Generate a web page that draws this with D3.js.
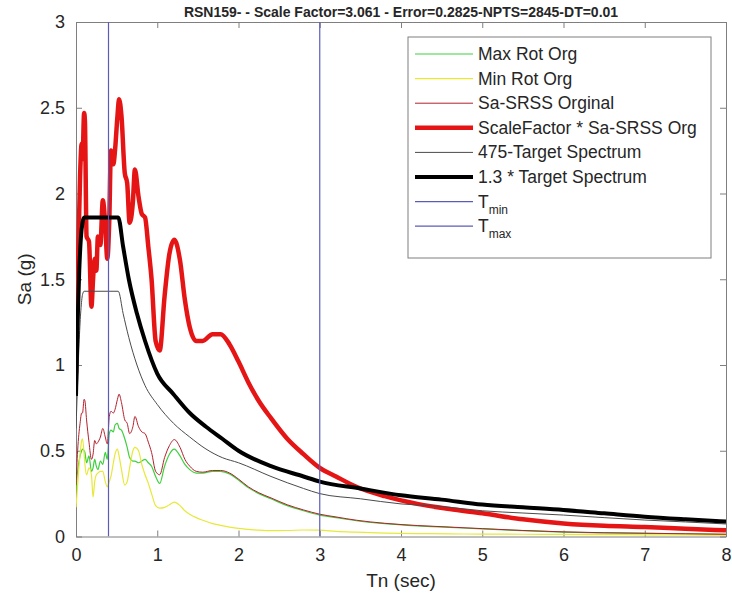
<!DOCTYPE html>
<html>
<head>
<meta charset="utf-8">
<script src="https://cdn.jsdelivr.net/npm/d3@7/dist/d3.min.js"></script>
<style>
  body { margin: 0; background: #fff; }
  text { font-family: "Liberation Sans", Arial, sans-serif; fill: #262626; }
  .axis path, .axis line { stroke: #7f7f7f; }
</style>
</head>
<body>
<div id="svg-area"></div>
<script>
// record spectra, periods in sec
var periods = [0, 0.02, 0.05, 0.07, 0.08, 0.1, 0.11, 0.13, 0.16, 0.19, 0.21, 0.23, 0.25, 0.27, 0.3, 0.33, 0.36, 0.385,
  0.41, 0.43, 0.46, 0.48, 0.51, 0.53, 0.56, 0.6, 0.63, 0.66, 0.7, 0.725, 0.77, 0.81, 0.85, 0.89, 0.93, 0.98,
  1.03, 1.09, 1.15, 1.21, 1.28, 1.34, 1.4, 1.48, 1.56, 1.68, 1.78, 1.89, 2.0, 2.12, 2.25, 2.4, 2.6, 2.8,
  3.0, 3.2, 3.45, 3.8, 4.2, 4.6, 5.0, 5.5, 6.0, 6.5, 7.0, 7.5, 8.0];

var maxRot = [0.27, 0.38, 0.47, 0.5, 0.51, 0.5, 0.49, 0.43, 0.47, 0.38, 0.4, 0.45, 0.41, 0.39, 0.44, 0.42, 0.49, 0.45,
  0.6, 0.62, 0.61, 0.65, 0.66, 0.63, 0.62, 0.57, 0.52, 0.46, 0.44, 0.44, 0.43, 0.44, 0.45, 0.43, 0.41, 0.35,
  0.31, 0.41, 0.48, 0.51, 0.47, 0.42, 0.39, 0.37, 0.37, 0.38, 0.38, 0.365, 0.33, 0.285, 0.25, 0.22, 0.18, 0.15,
  0.125, 0.11, 0.092, 0.075, 0.062, 0.053, 0.044, 0.034, 0.026, 0.021, 0.018, 0.015, 0.012];

var minRot = [0.17, 0.3, 0.48, 0.56, 0.57, 0.48, 0.42, 0.36, 0.4, 0.36, 0.23, 0.32, 0.36, 0.37, 0.38, 0.38, 0.32, 0.29,
  0.32, 0.35, 0.43, 0.48, 0.51, 0.47, 0.39, 0.3, 0.32, 0.4, 0.5, 0.52, 0.5, 0.42, 0.36, 0.31, 0.25, 0.18,
  0.165, 0.17, 0.185, 0.2, 0.18, 0.15, 0.13, 0.11, 0.095, 0.075, 0.065, 0.055, 0.047, 0.042, 0.037, 0.034, 0.035, 0.038,
  0.037, 0.03, 0.025, 0.02, 0.017, 0.015, 0.014, 0.013, 0.012, 0.011, 0.01, 0.009, 0.008];

var srss = [0.3, 0.5, 0.66, 0.72, 0.72, 0.8, 0.79, 0.68, 0.55, 0.45, 0.48, 0.56, 0.54, 0.55, 0.58, 0.63, 0.58, 0.54,
  0.7, 0.73, 0.72, 0.74, 0.8, 0.83, 0.78, 0.68, 0.66, 0.6, 0.64, 0.7, 0.64, 0.61, 0.6, 0.55, 0.49, 0.38,
  0.36, 0.46, 0.53, 0.565, 0.52, 0.45, 0.41, 0.38, 0.375, 0.385, 0.385, 0.37, 0.335, 0.29, 0.255, 0.225, 0.185, 0.155,
  0.13, 0.114, 0.095, 0.077, 0.064, 0.055, 0.046, 0.035, 0.027, 0.022, 0.019, 0.016, 0.013];

var srssScaled = [0.95, 1.5, 2.1, 2.29, 2.2, 2.47, 2.42, 1.75, 1.72, 1.34, 1.5, 1.62, 1.55, 1.75, 1.7, 1.96, 1.82, 1.62,
  1.85, 2.25, 2.17, 2.25, 2.45, 2.55, 2.45, 2.12, 2.06, 1.83, 1.95, 2.14, 1.98, 1.88, 1.86, 1.69, 1.5, 1.14,
  1.085, 1.4, 1.65, 1.73, 1.61, 1.38, 1.22, 1.14, 1.14, 1.18, 1.18, 1.12, 1.02, 0.9, 0.79, 0.69, 0.57, 0.48,
  0.4, 0.35, 0.29, 0.235, 0.19, 0.16, 0.135, 0.1, 0.076, 0.062, 0.055, 0.045, 0.036];

// target spectra
var periodsTarget = [0, 0.02, 0.04, 0.06, 0.08, 0.1, 0.52, 0.58, 0.65, 0.75, 0.85, 1.0, 1.2, 1.4, 1.6, 1.8, 2.0,
  2.4, 2.8, 3.0, 3.5, 4.0, 4.5, 5.0, 5.5, 6.0, 6.5, 7.0, 7.5, 8.0];
var target475 = [0.63, 0.9, 1.15, 1.32, 1.41, 1.43, 1.43, 1.3, 1.16, 1.0, 0.88, 0.77, 0.66, 0.58, 0.51, 0.46, 0.43,
  0.35, 0.28, 0.25, 0.22, 0.19, 0.175, 0.15, 0.137, 0.125, 0.11, 0.096, 0.085, 0.073];
var target13 = [0.82, 1.25, 1.55, 1.74, 1.83, 1.86, 1.86, 1.69, 1.5, 1.3, 1.14, 0.95, 0.83, 0.72, 0.64, 0.57, 0.5,
  0.41, 0.35, 0.32, 0.28, 0.24, 0.215, 0.186, 0.17, 0.155, 0.135, 0.115, 0.1, 0.087];

var tMin = 0.4;
var tMax = 3;

var xTicks = [0, 1, 2, 3, 4, 5, 6, 7, 8];
var yTicks = [0, 0.5, 1, 1.5, 2, 2.5, 3];
var yTickLabels = ["0", "0.5", "1", "1.5", "2", "2.5", "3"];

var titleText = "RSN159- - Scale Factor=3.061 - Error=0.2825-NPTS=2845-DT=0.01";

// svg size
var svgWidth = 732;
var svgHeight = 605;

var chartMargin = { top: 22, right: 6, bottom: 68.5, left: 76 };
var chartWidth = svgWidth - chartMargin.left - chartMargin.right;
var chartHeight = svgHeight - chartMargin.top - chartMargin.bottom;

var svg = d3.select("#svg-area")
  .append("svg")
  .attr("width", svgWidth)
  .attr("height", svgHeight);

var chartGroup = svg.append("g")
  .attr("transform", `translate(${chartMargin.left}, ${chartMargin.top})`);

var xScale = d3.scaleLinear().domain([0, 8]).range([0, chartWidth]);
var yScale = d3.scaleLinear().domain([0, 3]).range([chartHeight, 0]);

svg.append("defs").append("clipPath")
  .attr("id", "plot-clip")
  .append("rect")
  .attr("width", chartWidth)
  .attr("height", chartHeight);

// axes, ticks inside like matlab
var bottomAxis = d3.axisBottom(xScale).tickValues(xTicks).tickSize(-6).tickSizeOuter(0).tickPadding(12);
var topAxis = d3.axisTop(xScale).tickValues(xTicks).tickSize(-6).tickSizeOuter(0).tickFormat("");
var leftAxis = d3.axisLeft(yScale).tickValues(yTicks).tickSize(-6).tickSizeOuter(0).tickPadding(11)
  .tickFormat((d, i) => yTickLabels[i]);
var rightAxis = d3.axisRight(yScale).tickValues(yTicks).tickSize(-6).tickSizeOuter(0).tickFormat("");

chartGroup.append("g").attr("class", "axis")
  .attr("transform", `translate(0, ${chartHeight})`)
  .call(bottomAxis);
chartGroup.append("g").attr("class", "axis").call(topAxis);
chartGroup.append("g").attr("class", "axis").call(leftAxis);
chartGroup.append("g").attr("class", "axis")
  .attr("transform", `translate(${chartWidth}, 0)`)
  .call(rightAxis);

chartGroup.selectAll(".axis text").style("font-size", "18px");

// curves
var series = [
  { name: "Max Rot Org", x: periods, y: maxRot, color: "#3fcf3f", width: 1.2 },
  { name: "Min Rot Org", x: periods, y: minRot, color: "#e8e83a", width: 1.2 },
  { name: "Sa-SRSS Orginal", x: periods, y: srss, color: "#b3202c", width: 1 },
  { name: "ScaleFactor * Sa-SRSS Org", x: periods, y: srssScaled, color: "#e51515", width: 4.5 },
  { name: "475-Target Spectrum", x: periodsTarget, y: target475, color: "#4a4a4a", width: 1 },
  { name: "1.3 * Target Spectrum", x: periodsTarget, y: target13, color: "#000000", width: 4 }
];

var line = d3.line()
  .x(d => xScale(d[0]))
  .y(d => yScale(d[1]))
  .curve(d3.curveMonotoneX);

var plot = chartGroup.append("g").attr("clip-path", "url(#plot-clip)");

series.forEach(function(s) {
  plot.append("path")
    .datum(s.x.map((t, i) => [t, s.y[i]]))
    .attr("d", line)
    .attr("fill", "none")
    .attr("stroke", s.color)
    .attr("stroke-width", s.width)
    .attr("stroke-linejoin", "round");
});

// Tmin / Tmax
[tMin, tMax].forEach(function(t) {
  plot.append("line")
    .attr("x1", xScale(t)).attr("x2", xScale(t))
    .attr("y1", yScale(0)).attr("y2", yScale(3))
    .attr("stroke", "#5c5cb8")
    .attr("stroke-width", 1.2);
});

// labels
svg.append("text")
  .attr("x", chartMargin.left + chartWidth / 2)
  .attr("y", 17)
  .attr("text-anchor", "middle")
  .style("font-size", "14px")
  .style("font-weight", "bold")
  .text(titleText);

svg.append("text")
  .attr("x", chartMargin.left + chartWidth / 2)
  .attr("y", 587)
  .attr("text-anchor", "middle")
  .style("font-size", "19px")
  .text("Tn (sec)");

svg.append("text")
  .attr("transform", "rotate(-90)")
  .attr("x", -(chartMargin.top + chartHeight / 2))
  .attr("y", 31)
  .attr("text-anchor", "middle")
  .style("font-size", "19px")
  .text("Sa (g)");

// legend
var legend = svg.append("g").attr("transform", "translate(408, 37)");
legend.append("rect")
  .attr("width", 303)
  .attr("height", 221)
  .attr("fill", "#fff")
  .attr("stroke", "#7f7f7f")
  .attr("stroke-width", 1);

var legendItems = series.map(s => ({ name: s.name, color: s.color, width: s.width }))
  .concat([{ name: "T", sub: "min", color: "#5c5cb8", width: 1.2 },
           { name: "T", sub: "max", color: "#5c5cb8", width: 1.2 }]);

legendItems.forEach(function(item, i) {
  var yRow = 17 + i * 24.6;
  legend.append("line")
    .attr("x1", 7).attr("x2", 65)
    .attr("y1", yRow).attr("y2", yRow)
    .attr("stroke", item.color)
    .attr("stroke-width", item.width);
  var t = legend.append("text")
    .attr("x", 70)
    .attr("y", yRow + 6)
    .style("font-size", "17.5px")
    .text(item.name);
  if (item.sub) {
    t.append("tspan")
      .attr("dy", 6)
      .style("font-size", "12px")
      .text(item.sub);
  }
});
</script>
</body>
</html>
